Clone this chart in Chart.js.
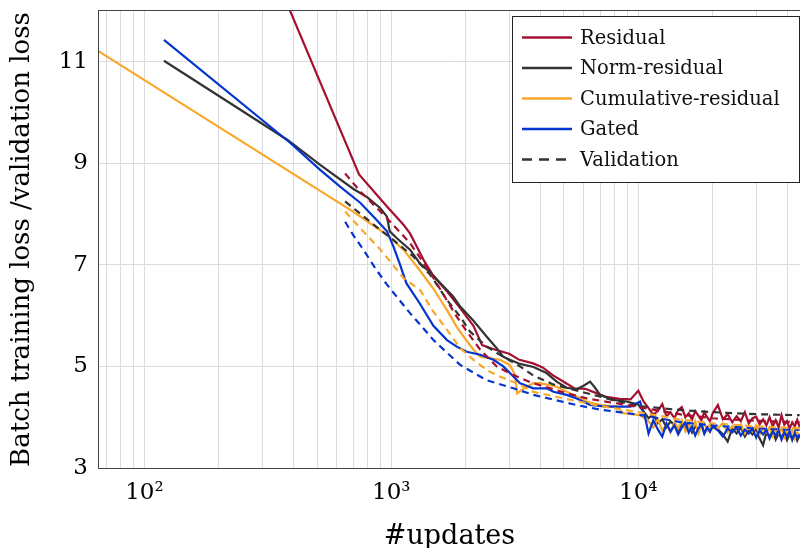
<!DOCTYPE html>
<html>
<head>
<meta charset="utf-8">
<script src="https://cdn.jsdelivr.net/npm/chart.js@4.4.1/dist/chart.umd.min.js"></script>
<style>
  html, body { margin: 0; padding: 0; background: #fff; }
  .chartBox { width: 800px; height: 548px; }
</style>
</head>
<body>
<div class="chartBox"><canvas id="lossChart" width="800" height="548"></canvas></div>
<script>
// noisy tail of the batch losses: every 500 updates up to 20k, then every 1000
const tailSteps = [11000, 11500, 12000, 12500, 13000, 13500, 14000, 14500, 15000, 15500,
    16000, 16500, 17000, 17500, 18000, 18500, 19000, 19500, 20000,
    21000, 22000, 23000, 24000, 25000, 26000, 27000, 28000, 29000, 30000,
    31000, 32000, 33000, 34000, 35000, 36000, 37000, 38000, 39000, 40000,
    41000, 42000, 43000, 44000, 45000];

// Residual
const residualSteps = [120, 740, 960, 1120, 1190, 1350, 1480, 1680, 1900, 2150, 2330, 2600, 3000, 3300, 3750, 4100, 4500, 5100, 5500, 6100, 6800, 7400, 8400, 9300, 10000, 10500];
const residualLoss = [17.9, 8.78, 8.15, 7.79, 7.62, 7.10, 6.78, 6.48, 6.15, 5.80, 5.42, 5.34, 5.25, 5.13, 5.06, 4.98, 4.83, 4.67, 4.57, 4.56, 4.47, 4.40, 4.36, 4.35, 4.52, 4.31];
const residualTail = [4.18, 4.05, 4.12, 4.26, 4.02, 4.10, 3.98, 4.14, 4.20, 4.00,
    4.08, 3.95, 4.12, 4.03, 3.94, 4.10, 4.00, 3.92, 4.08,
    4.24, 3.96, 4.06, 3.90, 4.02, 3.92, 4.10, 3.88, 3.98, 4.01,
    3.86, 3.96, 3.84, 4.00, 3.82, 3.94, 3.80, 4.04, 3.85, 3.92,
    3.78, 3.90, 3.82, 3.95, 3.80];
const residualValSteps = [650, 750, 960, 1190, 1440, 1840, 2020, 2290, 2670, 3120, 3700, 5130, 6180, 8000, 10000, 15000, 20000, 30000, 45000];
const residualValLoss = [8.80, 8.44, 7.92, 7.43, 6.84, 5.98, 5.69, 5.33, 5.00, 4.83, 4.68, 4.47, 4.37, 4.28, 4.20, 4.05, 3.98, 3.93, 3.90];

// Norm-residual
const normSteps = [120, 380, 515, 700, 800, 900, 960, 985, 1050, 1190, 1310, 1440, 1580, 1780, 1900, 2150, 2430, 2670, 2840, 3020, 3320, 3760, 4250, 4670, 5130, 5630, 6000, 6380, 6680, 7000, 7900, 8970, 10000];
const normLoss = [11.02, 9.46, 8.97, 8.50, 8.33, 8.12, 7.95, 7.66, 7.53, 7.30, 7.02, 6.85, 6.64, 6.38, 6.18, 5.90, 5.59, 5.36, 5.19, 5.13, 5.05, 4.99, 4.87, 4.70, 4.58, 4.55, 4.62, 4.70, 4.58, 4.44, 4.34, 4.31, 4.25];
const normTail = [3.98, 4.06, 3.88, 3.96, 3.80, 3.92, 3.84, 3.74, 3.90, 3.78,
    3.86, 3.70, 3.82, 3.75, 3.88, 3.68, 3.80, 3.72, 3.84,
    3.76, 3.66, 3.52, 3.78, 3.68, 3.80, 3.62, 3.74, 3.66, 3.78,
    3.58, 3.45, 3.70, 3.62, 3.74, 3.56, 3.68, 3.60, 3.72, 3.55,
    3.66, 3.58, 3.70, 3.54, 3.64];
const normValSteps = [650, 870, 1020, 1230, 1440, 1680, 1900, 2080, 2430, 2840, 3320, 3760, 4500, 5460, 6580, 8000, 10000, 15000, 20000, 30000, 45000];
const normValLoss = [8.25, 7.75, 7.49, 7.16, 6.80, 6.31, 5.98, 5.69, 5.39, 5.19, 5.00, 4.82, 4.65, 4.54, 4.44, 4.33, 4.22, 4.14, 4.10, 4.06, 4.04];

// Cumulative-residual
const cumSteps = [60, 700, 820, 960, 1120, 1310, 1480, 1680, 1840, 1960, 2150, 2290, 2750, 3020, 3170, 3230, 3400, 3760, 4000, 4670, 5460, 6180, 7000, 8180, 8700, 10160];
const cumLoss = [11.32, 8.05, 7.82, 7.59, 7.30, 6.88, 6.53, 6.11, 5.78, 5.59, 5.33, 5.19, 5.13, 5.03, 4.83, 4.47, 4.55, 4.67, 4.67, 4.60, 4.44, 4.31, 4.24, 4.21, 4.08, 4.04];
const cumTail = [3.92, 3.80, 3.96, 3.74, 3.86, 3.70, 3.90, 3.78, 3.94, 3.72,
    3.84, 3.76, 3.92, 3.68, 3.82, 3.88, 3.74, 3.86, 3.78,
    3.78, 3.88, 3.70, 3.82, 3.76, 3.86, 3.68, 3.80, 3.72, 3.84,
    3.66, 3.78, 3.70, 3.80, 3.62, 3.75, 3.68, 3.78, 3.60, 3.72,
    3.66, 3.76, 3.58, 3.70, 3.64];
const cumValSteps = [650, 750, 930, 1120, 1310, 1460, 1680, 1900, 2150, 2430, 2750, 3220, 3760, 5000, 7000, 10000, 15000, 20000, 30000, 45000];
const cumValLoss = [8.05, 7.72, 7.23, 6.74, 6.50, 6.12, 5.72, 5.36, 5.13, 4.93, 4.80, 4.67, 4.50, 4.37, 4.22, 4.10, 3.95, 3.88, 3.82, 3.78];

// Gated
const gatedSteps = [120, 390, 515, 620, 750, 870, 960, 1020, 1080, 1150, 1300, 1480, 1680, 1840, 2020, 2290, 2590, 2840, 3020, 3320, 3760, 4260, 4530, 5130, 5630, 6380, 7450, 9290, 10160, 10640];
const gatedLoss = [11.43, 9.40, 8.87, 8.54, 8.22, 7.89, 7.66, 7.36, 7.03, 6.64, 6.25, 5.80, 5.52, 5.39, 5.29, 5.23, 5.13, 5.00, 4.87, 4.67, 4.57, 4.57, 4.50, 4.44, 4.37, 4.24, 4.21, 4.21, 4.31, 4.01];
const gatedTail = [3.68, 3.94, 3.76, 3.62, 3.88, 3.72, 3.84, 3.66, 3.80, 3.90,
    3.70, 3.82, 3.64, 3.78, 3.86, 3.68, 3.80, 3.72, 3.82,
    3.74, 3.62, 3.78, 3.70, 3.80, 3.64, 3.76, 3.68, 3.78, 3.60,
    3.74, 3.66, 3.76, 3.58, 3.72, 3.64, 3.74, 3.56, 3.70, 3.62,
    3.72, 3.55, 3.68, 3.60, 3.66];
const gatedValSteps = [650, 700, 770, 870, 960, 1190, 1310, 1480, 1900, 2430, 3120, 3760, 5630, 7000, 10000, 15000, 20000, 30000, 45000];
const gatedValLoss = [7.85, 7.59, 7.30, 6.90, 6.61, 6.05, 5.82, 5.52, 5.03, 4.73, 4.57, 4.44, 4.24, 4.15, 4.05, 3.90, 3.84, 3.78, 3.75];

const xTicks = [70, 80, 90, 100, 200, 300, 400, 500, 600, 700, 800, 900,
    1000, 2000, 3000, 4000, 5000, 6000, 7000, 8000, 9000,
    10000, 20000, 30000, 40000];
const xTickLabels = { 100: '10²', 1000: '10³', 10000: '10⁴' };
const yTicks = [3, 5, 7, 9, 11];

const legendNames = ['Residual', 'Norm-residual', 'Cumulative-residual', 'Gated', 'Validation'];
const colors = ['#a51030', '#333333', '#f9a72b', '#0535cf'];

const serif = '"DejaVu Serif", "Liberation Serif", serif';

const toPoints = (xs, ys) => xs.map((x, i) => ({ x, y: ys[i] }));

const trainLine = (label, color, steps, loss, tail, order) => ({
    label,
    data: toPoints(steps.concat(tailSteps), loss.concat(tail)),
    borderColor: color,
    borderWidth: 2.2,
    pointRadius: 0,
    tension: 0,
    order,
});

const valLine = (color, steps, loss, order) => ({
    label: 'Validation',
    data: toPoints(steps, loss),
    borderColor: color,
    borderWidth: 2.2,
    borderDash: [7, 5],
    pointRadius: 0,
    tension: 0,
    order,
});

// plot frame + legend box drawn on top of the lines
const framePlugin = {
    id: 'frame',
    afterDatasetsDraw(chart) {
        const { ctx, chartArea: a } = chart;
        ctx.save();
        ctx.strokeStyle = '#444';
        ctx.lineWidth = 1;
        ctx.strokeRect(a.left - 0.5, a.top - 0.5, a.right - a.left + 1, a.bottom - a.top + 1);

        // legend
        const bx = 512, by = 16, bw = 287, bh = 166;
        ctx.fillStyle = '#fff';
        ctx.fillRect(bx, by, bw, bh);
        ctx.strokeStyle = '#222';
        ctx.strokeRect(bx + 0.5, by + 0.5, bw, bh);
        ctx.font = '19.5px ' + serif;
        ctx.textBaseline = 'middle';
        ctx.textAlign = 'left';
        legendNames.forEach((name, i) => {
            const y = 37.5 + i * 30.5;
            ctx.beginPath();
            ctx.lineWidth = 2.4;
            ctx.strokeStyle = colors[i] || '#333';
            ctx.setLineDash(i === 4 ? [10, 7] : []);
            ctx.moveTo(522, y);
            ctx.lineTo(572, y);
            ctx.stroke();
            ctx.fillStyle = '#111';
            ctx.fillText(name, 580, y + 1);
        });
        ctx.restore();
    }
};

// keep the plot box at fixed size, no extra room for edge tick labels
const fixY = scale => { scale.width = 99; scale.paddingTop = 0; scale.paddingBottom = 0; };
const fixX = scale => { scale.height = 80; scale.paddingLeft = 0; scale.paddingRight = 0; };

const ctx = document.getElementById('lossChart').getContext('2d');
new Chart(ctx, {
    type: 'line',
    data: {
        datasets: [
            trainLine('Residual', colors[0], residualSteps, residualLoss, residualTail, 4),
            trainLine('Norm-residual', colors[1], normSteps, normLoss, normTail, 3),
            trainLine('Cumulative-residual', colors[2], cumSteps, cumLoss, cumTail, 2),
            trainLine('Gated', colors[3], gatedSteps, gatedLoss, gatedTail, 1),
            valLine(colors[0], residualValSteps, residualValLoss, 0),
            valLine(colors[1], normValSteps, normValLoss, 0),
            valLine(colors[2], cumValSteps, cumValLoss, 0),
            valLine(colors[3], gatedValSteps, gatedValLoss, 0),
        ]
    },
    options: {
        responsive: false,
        animation: false,
        layout: { padding: { top: 11, right: 0, left: 0, bottom: 0 } },
        plugins: {
            legend: { display: false },
            tooltip: { enabled: false },
        },
        scales: {
            x: {
                type: 'logarithmic',
                min: 65.5,
                max: 45150,
                afterBuildTicks: scale => { scale.ticks = xTicks.map(value => ({ value })); },
                afterFit: fixX,
                ticks: {
                    autoSkip: false,
                    maxRotation: 0,
                    padding: 11,
                    color: '#000',
                    font: { family: serif, size: 23 },
                    callback: value => xTickLabels[value] || '',
                },
                grid: { color: '#dcdcdc', lineWidth: 1, drawTicks: false },
                border: { display: false },
                title: {
                    display: true,
                    text: '#updates',
                    color: '#000',
                    font: { family: serif, size: 27, lineHeight: 1 },
                    padding: { top: 0, bottom: -2 },
                },
            },
            y: {
                min: 3,
                max: 12,
                afterBuildTicks: scale => { scale.ticks = yTicks.map(value => ({ value })); },
                afterFit: fixY,
                ticks: {
                    padding: 11,
                    color: '#000',
                    font: { family: serif, size: 23 },
                },
                grid: { color: '#dcdcdc', lineWidth: 1, drawTicks: false },
                border: { display: false },
                title: {
                    display: true,
                    text: 'Batch training loss /validation loss',
                    color: '#000',
                    font: { family: serif, size: 26, lineHeight: 1 },
                    padding: { top: 9, bottom: 0 },
                },
            },
        },
    },
    plugins: [framePlugin],
});
</script>
</body>
</html>
